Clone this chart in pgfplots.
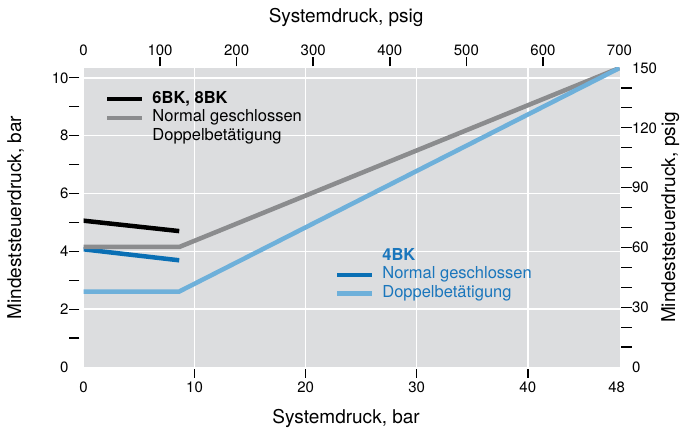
\documentclass[border=0pt]{standalone}
\usepackage{fontspec}
\setmainfont{TeX Gyre Heros}
\usepackage{pgfplots}
\pgfplotsset{compat=1.18}

\definecolor{bggrey}{HTML}{DCDDDF}
\definecolor{midgrey}{HTML}{8B8C8E}
\definecolor{darkblue}{HTML}{0A6FB4}
\definecolor{lightblue}{HTML}{6EB0DA}
\definecolor{textblue}{HTML}{1A76BC}

\tikzset{
  labelfont/.style={font=\fontsize{19}{19}\selectfont},
  tickmark/.style={black, line width=1.2pt},
  vtickmark/.style={black, line width=1.6pt},
}

\pgfplotsset{
  common/.style={
    scale only axis, width=536pt, height=299pt,
    at={(83.5pt,62pt)}, anchor=south west,
    axis line style={draw opacity=0},
    tick align=outside,
    major tick length=9pt,
    major tick style={draw opacity=0},
    tick label style={font=\fontsize{15}{15}\selectfont},
    /pgf/number format/assume math mode=true,
    legend style={draw=none, fill=none, inner sep=0pt, outer sep=0pt,
      anchor=north west, row sep=0.7pt,
      font=\fontsize{16.5}{16.5}\selectfont,
      nodes={inner xsep=0pt, inner ysep=1pt, text height=12pt, text depth=4pt},
      /tikz/every odd column/.append style={column sep=8pt}},
    legend cell align=left,
    legend image code/.code={\draw[##1] (0pt,0pt) -- (35pt,0pt);},
  },
  barscale/.style={common, xmin=0, xmax=48.26, ymin=0, ymax=10.34,
    xtick pos=left, ytick pos=left},
  psigscale/.style={common, xmin=0, xmax=700, ymin=0, ymax=150,
    xtick pos=right, ytick pos=right,
    xticklabel pos=right, yticklabel pos=right},
}

\begin{document}
\begin{tikzpicture}
\path[use as bounding box] (0pt,0pt) rectangle (680pt,429pt);

% bar scale: background, grid, data
\begin{axis}[barscale,
  axis background/.style={fill=bggrey},
  xtick={10,20,30,40}, xticklabels={},
  ytick={2,4,6,8,10}, yticklabels={},
  grid=major, major grid style={white, line width=1.5pt},
  legend style={at={(axis description cs:0.040,0.926)}},
]
\addplot[black, line width=4.5pt, forget plot] coordinates {(0,5.06) (8.62,4.70)};
\addplot[darkblue, line width=4.5pt, forget plot] coordinates {(0,4.07) (8.62,3.69)};
\addplot[midgrey, line width=4.5pt, forget plot] coordinates {(0,4.15) (8.62,4.15) (48.26,10.34)};
\addplot[lightblue, line width=4.5pt, forget plot] coordinates {(0,2.61) (8.62,2.61) (48.26,10.34)};
\addlegendimage{black, line width=4.5pt}
\addlegendentry{\textbf{6BK, 8BK}}
\addlegendimage{midgrey, line width=4.5pt}
\addlegendentry{Normal geschlossen}
\addlegendimage{empty legend}
\addlegendentry{Doppelbetätigung}
\end{axis}

% bar scale: tick marks, tick labels and axis labels
\begin{axis}[barscale, clip=false,
  xtick={0,10,20,30,40,48}, ytick={0,2,4,6,8,10},
  xticklabel style={yshift=-2pt}, yticklabel style={xshift=-2.5pt},
  xlabel={Systemdruck, bar}, ylabel={Mindeststeuerdruck, bar},
  every axis x label/.style={labelfont, at={(axis description cs:0.49,-0.1906)}, anchor=base},
  every axis y label/.style={labelfont, at={(axis description cs:-0.1166,0.5)}, rotate=90, anchor=base},
]
\pgfplotsinvokeforeach{1,2,3,4,5,6,7,8,9,10}{
  \draw[tickmark] (axis cs:0,#1) ++(-4pt,0pt) -- ++(-10pt,0pt);}
% bottom tick marks at 10, 20, 30, 40 bar (fractions of 48.26 bar)
\pgfplotsinvokeforeach{0.2072,0.4144,0.6216,0.8288}{
  \draw[vtickmark] ([yshift=-2pt]axis description cs:#1,0)
    -- ([yshift=-11pt]axis description cs:#1,0);}
\end{axis}

% psig scale: tick marks, tick labels, axis labels and blue legend
\begin{axis}[psigscale, clip=false,
  xtick={0,100,...,700}, ytick={0,30,...,150},
  xlabel={Systemdruck, psig}, ylabel={Mindeststeuerdruck, psig},
  every axis x label/.style={labelfont, at={(axis description cs:0.49,1.1505)}, anchor=base},
  every axis y label/.style={labelfont, at={(axis description cs:1.104,0.5)}, rotate=90, anchor=base},
  legend style={at={(axis description cs:0.469,0.401)}, text=textblue},
]
\pgfplotsinvokeforeach{10,20,30,40,50,60,70,80,90,100,110,120,130,140}{
  \draw[tickmark] (axis cs:700,#1) ++(2pt,0pt) -- ++(11pt,0pt);}
% top tick marks at 100 ... 600 psig
\pgfplotsinvokeforeach{0.142857,0.285714,0.428571,0.571429,0.714286,0.857143}{
  \draw[vtickmark] ([yshift=1.5pt]axis description cs:#1,1)
    -- ([yshift=10.5pt]axis description cs:#1,1);}
\addlegendimage{empty legend}
\addlegendentry{\textbf{4BK}}
\addlegendimage{darkblue, line width=4.5pt}
\addlegendentry{Normal geschlossen}
\addlegendimage{lightblue, line width=4.5pt}
\addlegendentry{Doppelbetätigung}
\end{axis}
\end{tikzpicture}
\end{document}
